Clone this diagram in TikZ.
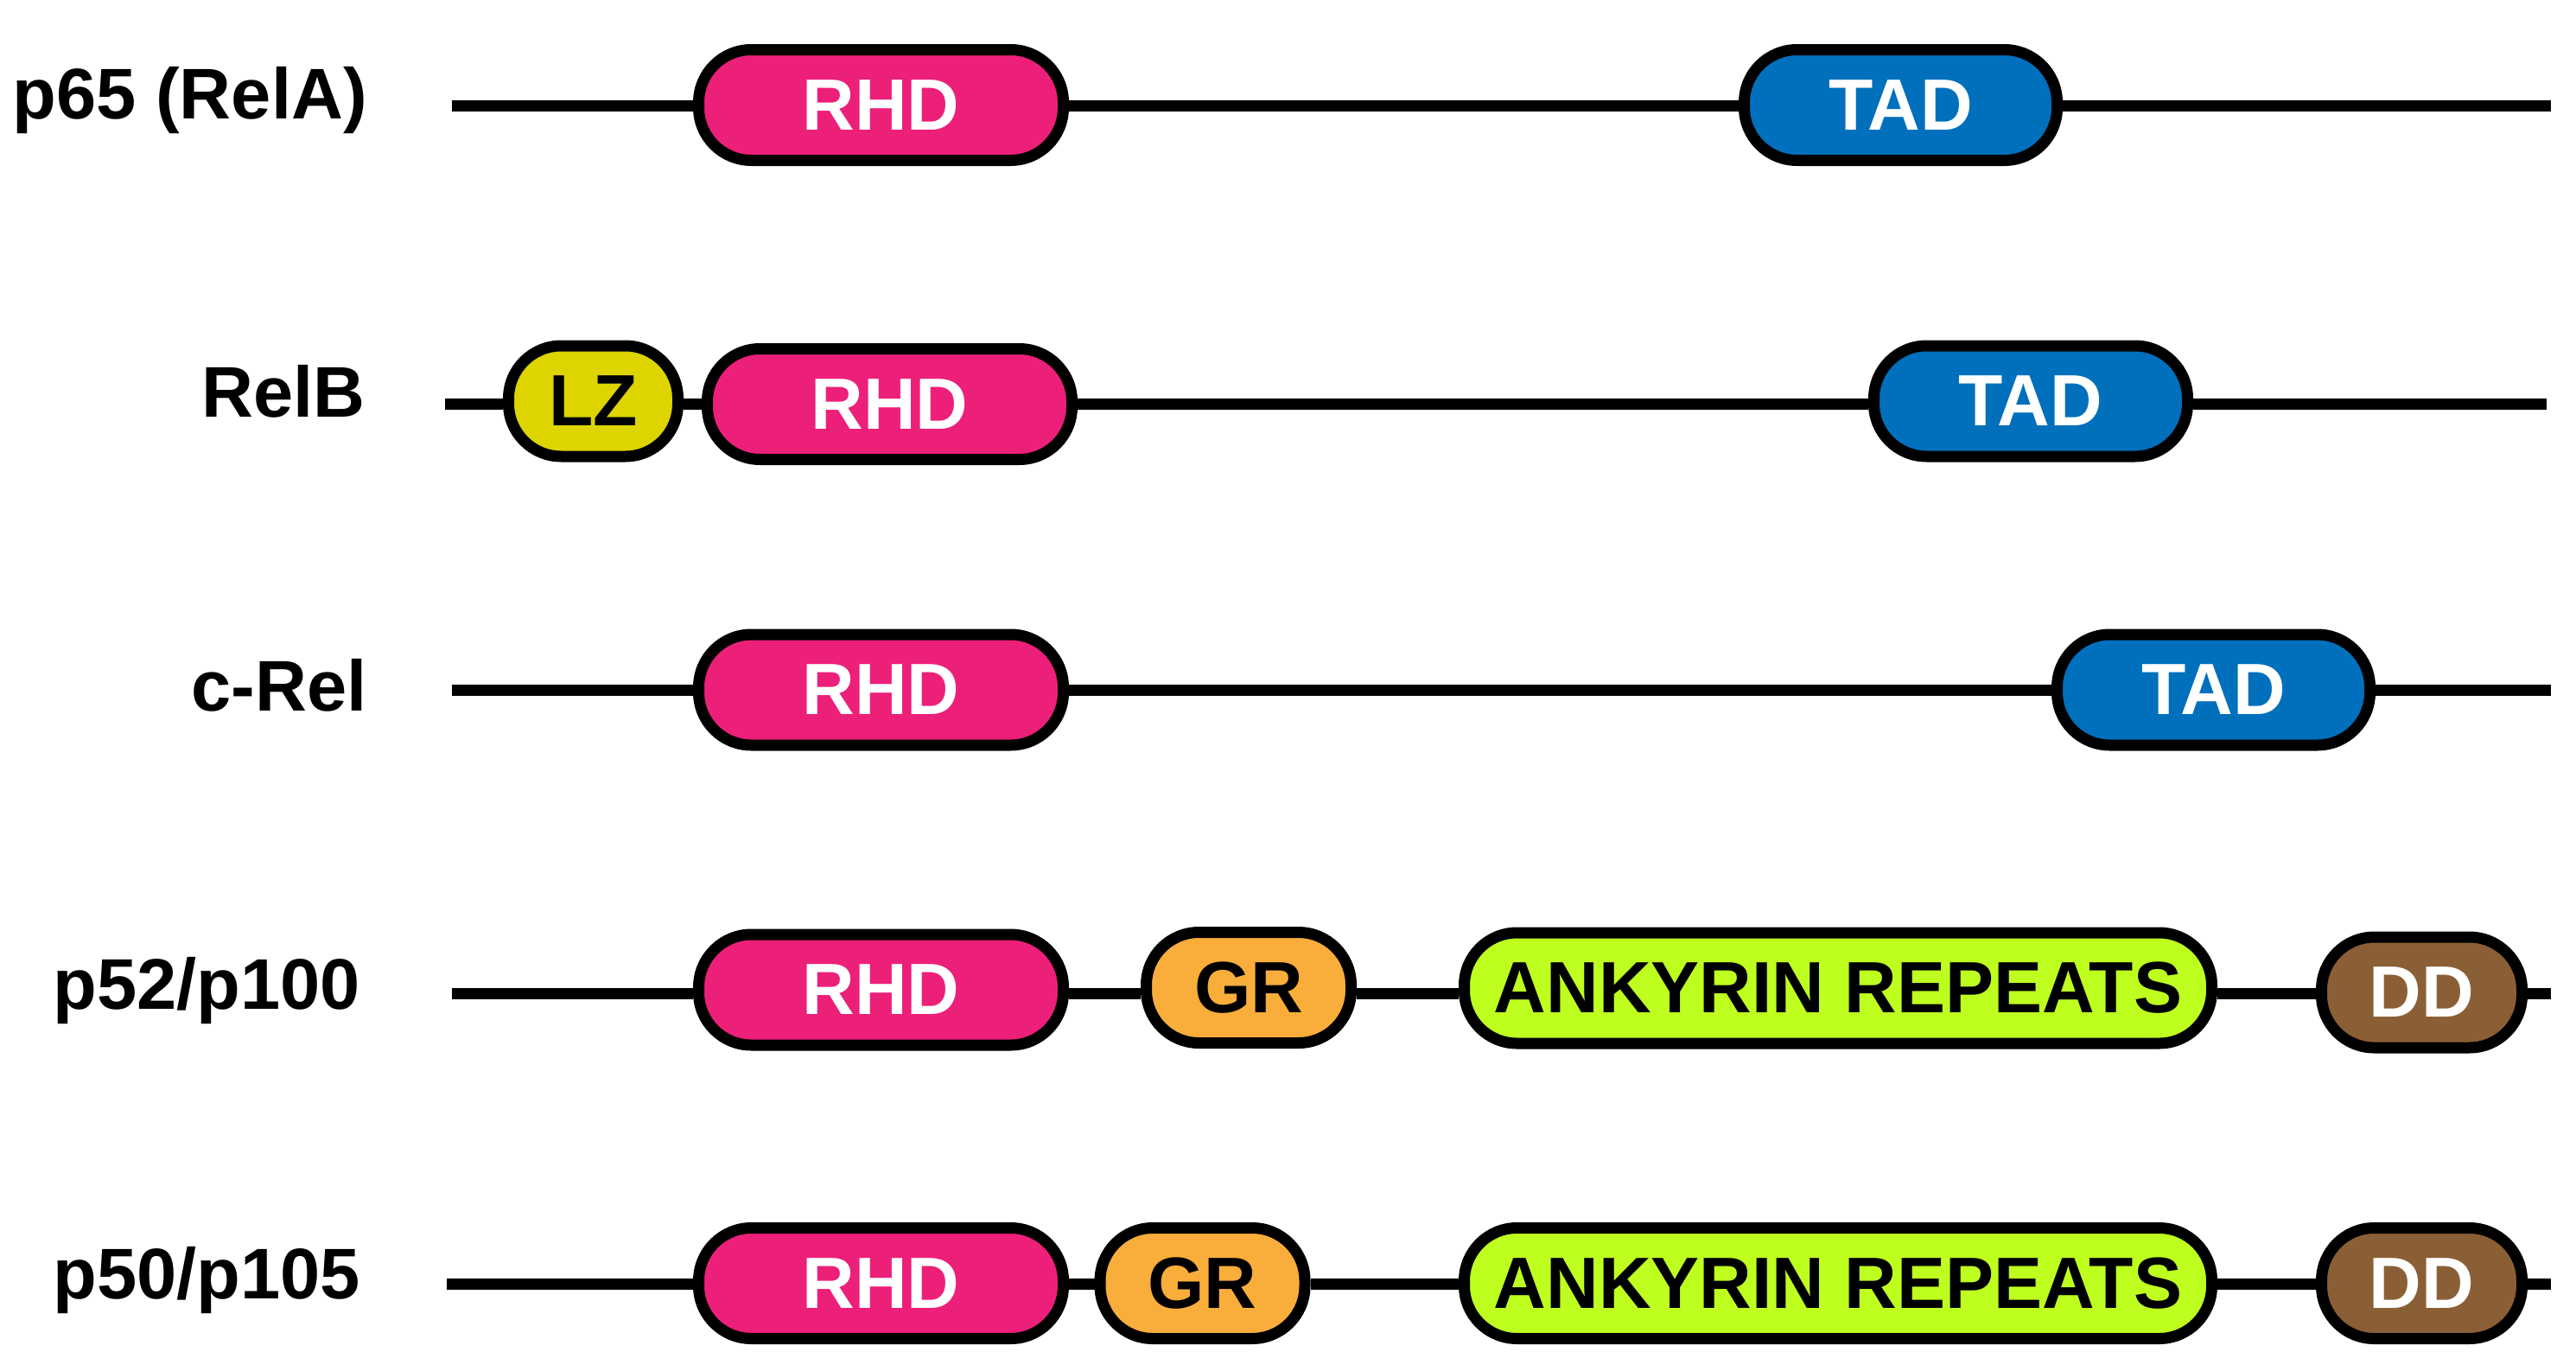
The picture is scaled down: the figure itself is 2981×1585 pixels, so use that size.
\documentclass[tikz,border=0pt]{standalone}
\usepackage{fontspec}
\setmainfont{Liberation Sans}
\definecolor{rhdc}{HTML}{EC1F79}
\definecolor{tadc}{HTML}{0070BC}
\definecolor{lzc}{HTML}{DDD400}
\definecolor{grc}{HTML}{F9AD3B}
\definecolor{ankc}{HTML}{BFFF1F}
\definecolor{ddc}{HTML}{8B5F36}
\tikzset{
  dombox/.style={draw=black, line width=13pt, rounded corners=61pt, minimum height=128pt, inner sep=0pt, font=\fontsize{84}{100}\selectfont\bfseries},
  rhdbox/.style={dombox, fill=rhdc, text=white},
  tadbox/.style={dombox, fill=tadc, text=white},
  lzbox/.style={dombox, fill=lzc, text=black},
  grbox/.style={dombox, fill=grc, text=black},
  ankbox/.style={dombox, fill=ankc, text=black},
  ddbox/.style={dombox, fill=ddc, text=white},
  lbl/.style={anchor=base east, inner sep=0pt, font=\fontsize{83}{98}\selectfont\bfseries},
  backbone/.style={draw=black, line width=13pt}
}
\begin{document}
\begin{tikzpicture}[x=1pt,y=-1pt]
\useasboundingbox[fill=white] (0,0) rectangle (2981,1585);
% row 1
\node[lbl] (l1) at (425,137) {p65 (RelA)};
\coordinate (s1) at (523,122);
\coordinate (e1) at (2952,122);
\node[rhdbox, minimum width=422pt] (rhd1) at (1019.5,121.5) {RHD};
\node[tadbox, minimum width=362pt] (tad1) at (2199.5,121.5) {TAD};
\draw[backbone] (s1) -- (rhd1.west |- s1);
\draw[backbone] (rhd1.east |- s1) -- (tad1.west |- s1);
\draw[backbone] (tad1.east |- s1) -- (e1);
% row 2
\node[lbl] (l2) at (423,482) {RelB};
\coordinate (s2) at (515,467);
\coordinate (e2) at (2947,467);
\node[lzbox, minimum width=196pt] (lz2) at (686.5,464) {LZ};
\node[rhdbox, minimum width=422pt] (rhd2) at (1029.5,467.5) {RHD};
\node[tadbox, minimum width=363pt] (tad2) at (2350,464) {TAD};
\draw[backbone] (s2) -- (lz2.west |- s2);
\draw[backbone] (lz2.east |- s2) -- (rhd2.west |- s2);
\draw[backbone] (rhd2.east |- s2) -- (tad2.west |- s2);
\draw[backbone] (tad2.east |- s2) -- (e2);
% row 3
\node[lbl] (l3) at (425,822) {c-Rel};
\coordinate (s3) at (523,798);
\coordinate (e3) at (2952,798);
\node[rhdbox, minimum width=422pt] (rhd3) at (1019.5,798) {RHD};
\node[tadbox, minimum width=362pt] (tad3) at (2561.5,798) {TAD};
\draw[backbone] (s3) -- (rhd3.west |- s3);
\draw[backbone] (rhd3.east |- s3) -- (tad3.west |- s3);
\draw[backbone] (tad3.east |- s3) -- (e3);
% row 4
\node[lbl] (l4) at (417,1167) {p52/p100};
\coordinate (s4) at (523,1149);
\coordinate (e4) at (2952,1149);
\node[rhdbox, minimum width=422pt] (rhd4) at (1019.5,1145) {RHD};
\node[grbox, minimum width=237pt] (gr4) at (1445,1142.5) {GR};
\node[ankbox, minimum width=865pt] (ank4) at (2127,1143) {ANKYRIN REPEATS};
\node[ddbox, minimum width=232pt] (dd4) at (2802.5,1148) {DD};
\draw[backbone] (s4) -- (rhd4.west |- s4);
\draw[backbone] (rhd4.east |- s4) -- (gr4.west |- s4);
\draw[backbone] (gr4.east |- s4) -- (ank4.west |- s4);
\draw[backbone] (ank4.east |- s4) -- (dd4.west |- s4);
\draw[backbone] (dd4.east |- s4) -- (e4);
% row 5
\node[lbl] (l5) at (417,1502) {p50/p105};
\coordinate (s5) at (517,1485);
\coordinate (e5) at (2952,1485);
\node[rhdbox, minimum width=422pt] (rhd5) at (1019.5,1484.5) {RHD};
\node[grbox, minimum width=237pt] (gr5) at (1391.5,1484.5) {GR};
\node[ankbox, minimum width=865pt] (ank5) at (2127,1484.5) {ANKYRIN REPEATS};
\node[ddbox, minimum width=232pt] (dd5) at (2802.5,1484.5) {DD};
\draw[backbone] (s5) -- (rhd5.west |- s5);
\draw[backbone] (rhd5.east |- s5) -- (gr5.west |- s5);
\draw[backbone] (gr5.east |- s5) -- (ank5.west |- s5);
\draw[backbone] (ank5.east |- s5) -- (dd5.west |- s5);
\draw[backbone] (dd5.east |- s5) -- (e5);
\end{tikzpicture}
\end{document}
